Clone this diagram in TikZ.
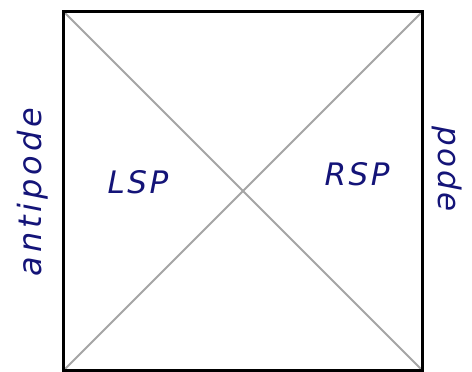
\documentclass[tikz,border=0pt]{standalone}
\usepackage{fontspec}
\newfontfamily\hand[LetterSpace=8]{DejaVu Sans}
\newfontfamily\handwide[LetterSpace=12]{DejaVu Sans}
\definecolor{ink}{RGB}{20,20,120}
\definecolor{diag}{RGB}{165,165,165}
\tikzset{
  lbl/.style={text=ink, font=\hand\itshape\fontsize{31}{31}\selectfont, inner sep=0pt},
  lblwide/.style={text=ink, font=\handwide\itshape\fontsize{32}{32}\selectfont, inner sep=0pt},
  frame/.style={line width=3.2pt, black},
  diagline/.style={line width=1.8pt, diag}
}
\begin{document}
\begin{tikzpicture}[x=1pt,y=-1pt]
\useasboundingbox (0,0) rectangle (472,372);
\fill[white] (0,0) rectangle (472,372);
\coordinate (tl) at (63.5,11.5);
\coordinate (tr) at (422.5,11.5);
\coordinate (br) at (422.5,370.5);
\coordinate (bl) at (63.5,370.5);
\draw[diagline] (tl) -- (br);
\draw[diagline] (tr) -- (bl);
\draw[frame] (tl) -- (tr) -- (br) -- (bl) -- cycle;
\node[lbl] (lsp) at (138,182) {LSP};
\node[lbl] (rsp) at (357,174) {RSP};
\node[lblwide, rotate=90] (anti) at (33,192) {antipode};
\node[lbl, rotate=-90] (pode) at (447,169) {pode};
\end{tikzpicture}
\end{document}
